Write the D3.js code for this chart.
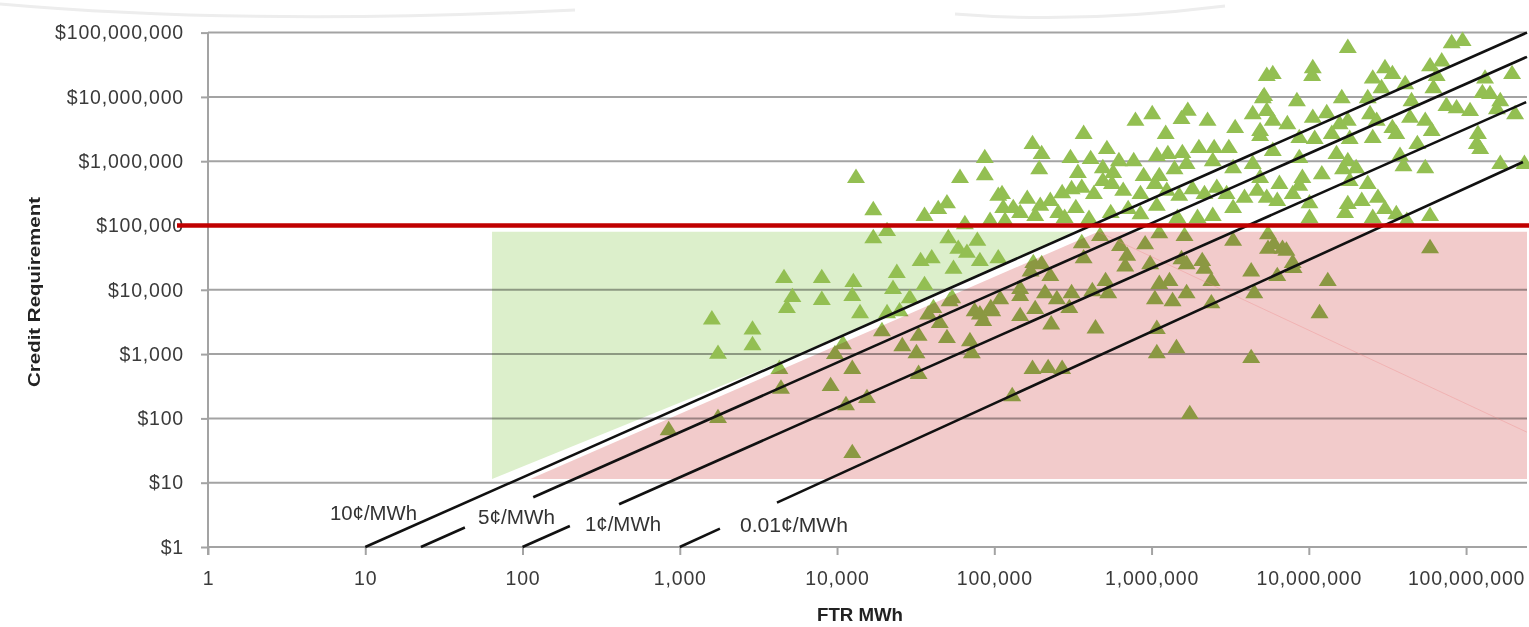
<!DOCTYPE html>
<html><head><meta charset="utf-8">
<script src="https://cdn.jsdelivr.net/npm/d3@7"></script>
<style>
html,body{margin:0;padding:0;background:#fff;}
svg{display:block;}
</style></head><body>
<svg id="chart" width="1529" height="627"></svg>
<script>
// ---------- data ----------
const yTickValues = [1, 10, 100, 1000, 1e4, 1e5, 1e6, 1e7, 1e8];
const yTickLabels = ["$1","$10","$100","$1,000","$10,000","$100,000","$1,000,000","$10,000,000","$100,000,000"];
const xTickValues = [1, 10, 100, 1000, 1e4, 1e5, 1e6, 1e7, 1e8];
const xTickLabels = ["1","10","100","1,000","10,000","100,000","1,000,000","10,000,000","100,000,000"];

const ftrMWh = [
  1600,1750,2900,2900,4600,5200,4800,8000,8000,12700,
  12500,14000,13200,17000,20800,17000,24000,22700,36000,29000,
  36000,44000,50000,60500,87000,87000,106000,114000,51000,59000,
  67000,78000,34000,40000,55000,81000,106000,10900,9700,4300,
  4400,12500,9100,11400,15500,19300,26000,33000,32000,33000,
  41000,45000,50000,54000,70000,72000,75000,85000,97000,38000,
  1750,12500,20800,25000,850,52000,81000,95000,5.4e6,5.1e6,
  4.4e6,1.7e6,1.55e6,2.27e6,7.9e5,1.01e6,3.4e6,1.23e6,3.7e5,1.75e5,
  2.0e5,1.93e5,3.05e5,4.1e5,5.2e5,6.2e5,7.7e5,1.08e6,1.27e6,1.57e6,
  2.0e6,2.5e6,3.1e6,4.9e6,3.4e5,4.9e5,5.7e5,8.9e5,1.12e6,1.4e6,
  1.67e6,2.45e6,3.3e6,4.4e6,1.12e5,1.32e5,1.62e5,1.96e5,2.27e5,2.7e5,
  3.1e5,3.6e5,4.3e5,4.9e5,5.6e5,6.6e5,8.5e5,1.05e6,1.25e6,1.5e6,
  1.82e6,2.17e6,2.6e6,3.0e6,3.9e6,4.7e6,1.82e5,2.55e5,4.0e5,5.5e5,
  8.5e5,1.46e6,1.96e6,2.45e6,3.3e6,1.46e5,1.17e5,2.8e5,3.3e5,7.1e5,
  1.08e6,3.6e5,4.7e5,6.3e5,7.0e5,6.8e5,9.1e5,1.12e6,1.62e6,1.55e6,
  1.67e6,2.1e6,2.17e6,3.3e6,4.3e6,5.5e6,2.4e6,4.5e6,9.8e5,1.3e6,
  1.12e6,1.05e6,1.36e6,1.67e6,2.4e6,3.7e5,1.77e5,1.7e5,2.27e5,2.0e5,
  1.46e5,1.46e5,2.1e5,2.5e5,3.1e5,3.0e5,1.82e5,1.46e5,2.3e5,4.2e5,
  5.1e5,5.3e5,4.4e5,1.08e6,1.08e6,1.44e6,4.3e6,1.75e5,2.2e5,2.7e5,
  1.3e5,1.75e6,1.09e5,8.0e6,6.8e6,6.0e6,5.5e6,1.32e7,1.17e7,5.9e7,
  6.3e6,7.9e6,1.77e7,8.1e7,9.5e7,1.06e7,1.05e7,5.9e6,3.05e7,3.4e7,
  2.55e7,5.9e7,7.0e7,6.5e7,1.32e8,1.96e8,4.1e7,2.9e7,6.2e7,1.62e7,
  8.4e6,5.2e6,2.37e7,4.5e7,7.5e7,8.7e7,1.06e8,1.27e8,1.42e8,1.65e8,
  2.05e8,1.57e8,5.4e6,5.9e6,7.3e6,1.06e7,1.3e7,1.57e7,1.77e7,2.45e7,
  2.7e7,3.4e7,5.5e7,6.05e7,4.4e7,8.7e6,1.09e7,1.4e7,1.82e7,2.55e7,
  3.6e7,4.9e7,1.19e8,1.17e8,1.23e8,5.9e6,8.7e6,1.5e7,1.77e7,2.0e7,
  1.65e7,3.8e7,4.0e7,5.5e7,1.65e8,1.21e7,4.9e6,6.5e6,8.7e6,9.1e6,
  1.82e7,2.37e7,5.4e6,6.3e6,7.9e6,1.01e7,1.77e7,2.17e7,2.75e7,3.05e7,
  1.01e7,1.7e7,2.55e7,3.6e7,4.2e7,5.9e7,2.35e8,7.2e6,4.9e6,94000,
  65000
];
const creditRequirement = [
  3600,1050,2500,1430,15800,8000,5400,15800,7200,13700,
  8300,4500,570000,180000,85000,66000,19000,10700,12300,7700,
  146000,187000,230000,570000,1160000,630000,300000,194000,66000,45000,
  39000,60000,29000,32000,22000,29000,32000,1480,1040,610,
  300,610,330,167,215,2360,1380,2000,1070,510,
  5400,3150,1840,7700,1650,1070,4800,3400,4800,4300,
  105,30,4500,4800,68,6900,4300,5400,2.2e7,9.9e6,
  5.6e6,6.3e6,4.7e6,4.4e6,4.4e6,5.6e6,3.4e6,2.75e6,2.75e6,1.92e6,
  1.34e6,7.8e5,1.16e6,1.12e6,1.6e6,1.04e6,1.04e6,1.25e6,1.34e6,1.39e6,
  1.66e6,1.66e6,1.66e6,2.55e6,6.8e5,8.1e5,6.8e5,6.1e5,6.1e5,7.8e5,
  9.4e5,1.04e6,8.1e5,9.4e5,3.2e5,1.94e5,2.7e5,2.1e5,2.5e5,3.3e5,
  3.8e5,4.0e5,3.2e5,5.1e5,4.6e5,3.6e5,3.2e5,4.6e5,3.6e5,3.0e5,
  3.8e5,3.2e5,4.0e5,3.2e5,2.8e5,3.6e5,1.46e5,1.62e5,1.31e5,1.62e5,
  1.56e5,1.36e5,1.36e5,1.46e5,1.94e5,1.62e5,1.22e5,1.36e5,1.94e5,1.87e5,
  2.1e5,5.5e4,7.1e4,5.0e4,3.5e4,2.4e4,5.3e4,7.9e4,7.1e4,3.1e4,
  2.6e4,2.9e4,2.2e4,6.0e4,2.0e4,4.5e4,1.42e4,9200,2.6e4,1.42e4,
  1.28e4,7400,6900,9200,6400,3.2e4,2.7e4,2.0e4,1.7e4,2.6e4,
  1.07e4,8300,9200,7400,9200,5400,5200,4050,3000,9900,
  1.42e4,9200,2600,2550,1070,1280,900,610,630,610,
  230,121,7400,2.26e4,4.5e4,5.3e4,7.6e4,1.42e4,4500,4.6e4,
  1.7e4,2.7e4,6.0e7,7.1e7,7.7e7,2.9e7,2.2e7,2.35e7,2.9e7,2.35e7,
  2.0e7,3.1e7,3.7e7,2.2e7,2.0e7,2.35e7,1.64e7,1.42e7,1.42e7,9.9e6,
  8.9e6,1.07e7,9.9e6,8.9e6,7.5e6,6.9e6,6.25e6,1.19e7,1.15e7,8.9e6,
  5.6e6,6.7e6,6.25e6,4.4e6,3.9e6,4.9e6,5.8e6,3.9e6,4.4e6,5.6e6,
  4.4e6,3.4e6,4.4e6,3.05e6,4.9e6,2.38e6,2.3e6,2.75e6,2.3e6,2.38e6,
  2.75e6,1.92e6,2.75e6,1.92e6,1.6e6,1.5e6,1.16e6,1.34e6,1.04e6,8.1e5,
  7.8e5,1.25e6,8.7e5,8.1e5,9.4e5,6.5e5,5.7e5,4.6e5,4.3e5,5.7e5,
  5.1e5,4.6e5,2.8e5,2.5e5,3.2e5,2.3e5,2.24e5,2.5e5,2.8e5,1.87e5,
  1.36e5,1.62e5,1.36e5,1.56e5,1.22e5,1.46e5,9.4e5,4.2e4,3.05e6,122000,
  109000
];

// cents-per-MWh guide lines: start / end points [MWh, $], gap (for label) in MWh
const rateLabels = ["10\u00a2/MWh", "5\u00a2/MWh", "1\u00a2/MWh", "0.01\u00a2/MWh"];
const rateStart = [[10, 1], [22.6, 1], [100, 1], [1000, 1]];
const rateEnd = [[2.44e8, 1e8], [2.44e8, 4.2e7], [2.41e8, 8.3e6], [2.3e8, 9.7e5]];
const rateGap = [null, [43, 117], [200, 411], [1800, 4150]];

const thresholdCredit = 100000;
// shaded zones in data space [MWh, $]
const greenZone = [[64, 8e4], [3.41e5, 8e4], [4340, 754], [64, 11.4]];
const pinkZone = [[112, 11.4], [4.57e5, 8e4], [2.44e8, 8e4], [2.44e8, 11.4]];
const faintDiag = [[4.57e5, 8e4], [2.44e8, 61]];

// ---------- layout ----------
const svg = d3.select("#chart");
const W = 1529, H = 627;
const plotL = 208, plotR = 1527, plotT = 32.6, plotB = 547;

const x = d3.scaleLog().domain([1, 2.44e8]).range([plotL, plotR]);
const y = d3.scaleLog().domain([1, 1e8]).range([plotB, plotT]);

svg.append("rect").attr("width", W).attr("height", H).attr("fill", "#fff");

// faint slide decoration at top
svg.append("path").attr("d", "M0,4 Q250,26 575,10").attr("fill", "none")
  .attr("stroke", "#ededed").attr("stroke-width", 3);
svg.append("path").attr("d", "M955,14 Q1080,24 1225,6").attr("fill", "none")
  .attr("stroke", "#ededed").attr("stroke-width", 3);

const gridColor = "#a3a3a3";
// horizontal gridlines
svg.append("g").selectAll("line").data(yTickValues).join("line")
  .attr("x1", plotL).attr("x2", plotR)
  .attr("y1", d => y(d)).attr("y2", d => y(d))
  .attr("stroke", gridColor).attr("stroke-width", 2);

const poly = pts => "M" + pts.map(p => x(p[0]) + "," + y(p[1])).join("L") + "Z";

// green zone (under points)
svg.append("path").attr("d", poly(greenZone))
  .attr("fill", "#dcefcb").style("mix-blend-mode", "multiply");

// points: Excel-style triangle marker (wider than equilateral)
const excelTriangle = {
  draw(ctx, size) {
    const s = Math.sqrt(size);          // size = width^2
    const hw = s / 2, h = s * 0.8;
    ctx.moveTo(0, -h * 0.58);
    ctx.lineTo(hw, h * 0.42);
    ctx.lineTo(-hw, h * 0.42);
    ctx.closePath();
  }
};
const pts = ftrMWh.map((v, i) => [v, creditRequirement[i]]);
svg.append("g").selectAll("path").data(pts).join("path")
  .attr("transform", d => `translate(${x(d[0])},${y(d[1])})`)
  .attr("d", d3.symbol(excelTriangle, 18 * 18))
  .attr("fill", "#93bf52");

// pink zone (over points, multiply)
svg.append("path").attr("d", poly(pinkZone))
  .attr("fill", "#f2cbcb").style("mix-blend-mode", "multiply");

// faint diagonal artifact
svg.append("line")
  .attr("x1", x(faintDiag[0][0])).attr("y1", y(faintDiag[0][1]))
  .attr("x2", x(faintDiag[1][0])).attr("y2", y(faintDiag[1][1]))
  .attr("stroke", "#e88").attr("stroke-width", 0.8)
  .attr("opacity", 0.45);

// axes
const tickFont = "'Liberation Sans', Arial, sans-serif";
const yAxis = d3.axisLeft(y).tickValues(yTickValues)
  .tickFormat((d, i) => yTickLabels[i]).tickSize(7).tickSizeOuter(0).tickPadding(17);
const gy = svg.append("g").attr("transform", `translate(${plotL},0)`).call(yAxis);
gy.select(".domain").attr("stroke", gridColor).attr("stroke-width", 2)
  .attr("d", `M0,${plotT}V${plotB + 8}`);
gy.selectAll(".tick line").attr("stroke", gridColor).attr("stroke-width", 2);
gy.selectAll(".tick text").attr("fill", "#3a3a3a").style("font-family", tickFont)
  .style("font-size", "19.5px").style("letter-spacing", "0.8px");

const xAxis = d3.axisBottom(x).tickValues(xTickValues)
  .tickFormat((d, i) => xTickLabels[i]).tickSize(8).tickSizeOuter(0).tickPadding(16);
const gx = svg.append("g").attr("transform", `translate(0,${plotB})`).call(xAxis);
gx.select(".domain").attr("stroke", gridColor).attr("stroke-width", 2)
  .attr("d", `M${plotL},0H${plotR}`);
gx.selectAll(".tick line").attr("stroke", gridColor).attr("stroke-width", 2);
gx.selectAll(".tick text").attr("fill", "#3a3a3a").style("font-family", tickFont)
  .style("font-size", "19.5px").style("letter-spacing", "0.8px");

// rate lines
const gl = svg.append("g");
rateStart.forEach((s, i) => {
  const x0 = x(s[0]), y0 = y(s[1]), x1 = x(rateEnd[i][0]), y1 = y(rateEnd[i][1]);
  const yAt = px => y0 + (y1 - y0) * (px - x0) / (x1 - x0);
  let segs = [[x0, y0, x1, y1]];
  if (rateGap[i]) {
    const g0 = x(rateGap[i][0]), g1 = x(rateGap[i][1]);
    segs = [[x0, y0, g0, yAt(g0)], [g1, yAt(g1), x1, y1]];
  }
  segs.forEach(sg => gl.append("line")
    .attr("x1", sg[0]).attr("y1", sg[1]).attr("x2", sg[2]).attr("y2", sg[3])
    .attr("stroke", "#111").attr("stroke-width", 2.6));
});

// threshold line
svg.append("line").attr("x1", 177).attr("x2", W)
  .attr("y1", y(thresholdCredit)).attr("y2", y(thresholdCredit))
  .attr("stroke", "#c00000").attr("stroke-width", 4.5);

// rate labels
const labelPos = [[330, 520, 87], [478, 524, 77], [585, 531, 76], [740, 532, 108]];
const labFont = "'Liberation Sans Narrow', 'Arial Narrow', 'Liberation Sans', sans-serif";
rateLabels.forEach((t, i) => {
  svg.append("text").attr("x", labelPos[i][0]).attr("y", labelPos[i][1])
    .attr("textLength", labelPos[i][2]).attr("lengthAdjust", "spacingAndGlyphs")
    .style("font-family", labFont).style("font-size", "20px").attr("fill", "#333")
    .text(t);
});

// axis titles
svg.append("text").attr("transform", "translate(40,292) rotate(-90)")
  .attr("text-anchor", "middle").attr("textLength", 190).attr("lengthAdjust", "spacingAndGlyphs")
  .style("font-family", tickFont).style("font-weight", "bold").style("font-size", "17px")
  .attr("fill", "#222").text("Credit Requirement");
svg.append("text").attr("x", 860).attr("y", 621)
  .attr("text-anchor", "middle").attr("textLength", 86).attr("lengthAdjust", "spacingAndGlyphs")
  .style("font-family", tickFont).style("font-weight", "bold").style("font-size", "19px")
  .attr("fill", "#222").text("FTR MWh");
</script>
</body></html>
